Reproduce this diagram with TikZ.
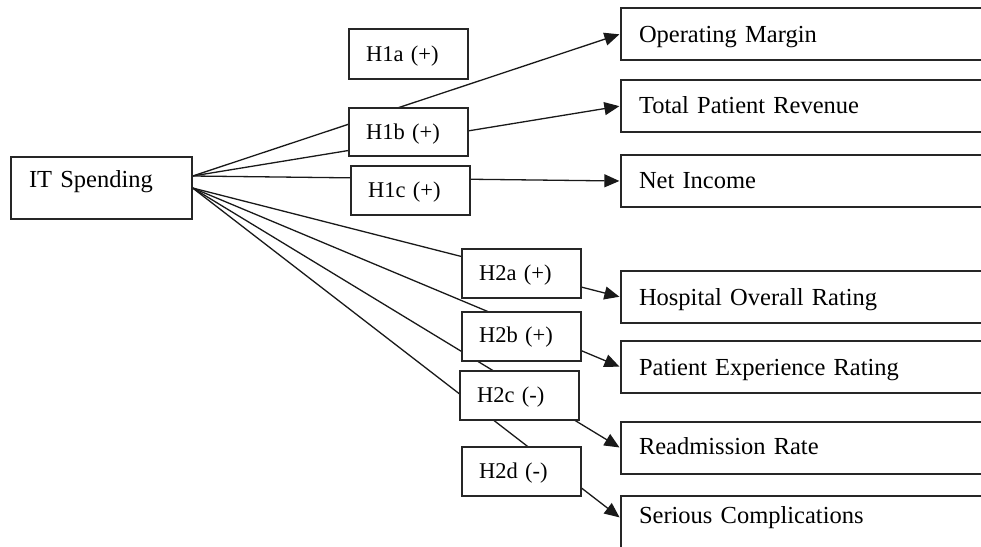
\documentclass[tikz,border=0pt]{standalone}
\usepackage{fontspec}
\setmainfont{Liberation Serif}
\usetikzlibrary{arrows.meta,calc}
\pgfdeclarelayer{bg}
\pgfsetlayers{bg,main}
\tikzset{
  box/.style={draw=black!85, line width=1.3pt, fill=white, rectangle, inner ysep=0pt,
    text height=17pt, text depth=3pt, align=left, font=\fontsize{24.5}{29}\selectfont},
  hbox/.style={box, minimum width=119pt, inner xsep=17pt, text width=85pt,
    font=\fontsize{22.5}{27}\selectfont},
  outbox/.style={box, minimum height=52pt, inner xsep=18pt, text width=364pt},
  link/.style={line width=1.3pt, draw=black!90, shorten >=1pt, -{Triangle[length=15pt,width=13pt]}}
}
\begin{document}
\begin{tikzpicture}[x=1pt,y=-1pt]
\useasboundingbox (0,0) rectangle (981,546);
\clip (0,0) rectangle (981,546);
% source
\node[box, minimum height=62pt, inner xsep=18pt, text width=145pt, text depth=19pt] (it) at (101.5,188) {IT Spending};
\coordinate (itU) at ($(it.east)+(0,-12)$);
% hypothesis boxes
\node[hbox, minimum height=50pt] (h1a) at (408.5,54) {H1a (+)};
\node[hbox, minimum height=48pt] (h1b) at (408.5,132) {H1b (+)};
\node[hbox, minimum height=49pt] (h1c) at (410.5,190.5) {H1c (+)};
\node[hbox, minimum height=49pt] (h2a) at (521.5,273.5) {H2a (+)};
\node[hbox, minimum height=49pt, text depth=5pt] (h2b) at (521.5,336.5) {H2b (+)};
\node[hbox, minimum height=49pt] (h2c) at (519.5,395.5) {H2c (-)};
\node[hbox, minimum height=49pt] (h2d) at (521.5,471.5) {H2d (-)};
% outcome boxes
\node[outbox, text depth=1pt] (om) at (821,34) {Operating Margin};
\node[outbox] (tpr) at (821,106) {Total Patient Revenue};
\node[outbox] (ni) at (821,181) {Net Income};
\node[outbox, text depth=1pt] (hor) at (821,297) {Hospital Overall Rating};
\node[outbox, text depth=1pt] (per) at (821,367) {Patient Experience Rating};
\node[outbox, text depth=5pt] (rr) at (821,448) {Readmission Rate};
\node[outbox, text depth=15pt] (sc) at (821,522) {Serious Complications};
% connectors (behind the hypothesis boxes)
\begin{pgfonlayer}{bg}
\draw[link] (itU) -- (om.west);
\draw[link] (itU) -- (tpr.west);
\draw[link] (itU) -- (ni.west);
\draw[link] (it.east) -- (hor.west);
\draw[link] (it.east) -- (per.west);
\draw[link] (it.east) -- (rr.west);
\draw[link] (it.east) -- ($(sc.west)+(0,-4)$);
\end{pgfonlayer}
\end{tikzpicture}
\end{document}
